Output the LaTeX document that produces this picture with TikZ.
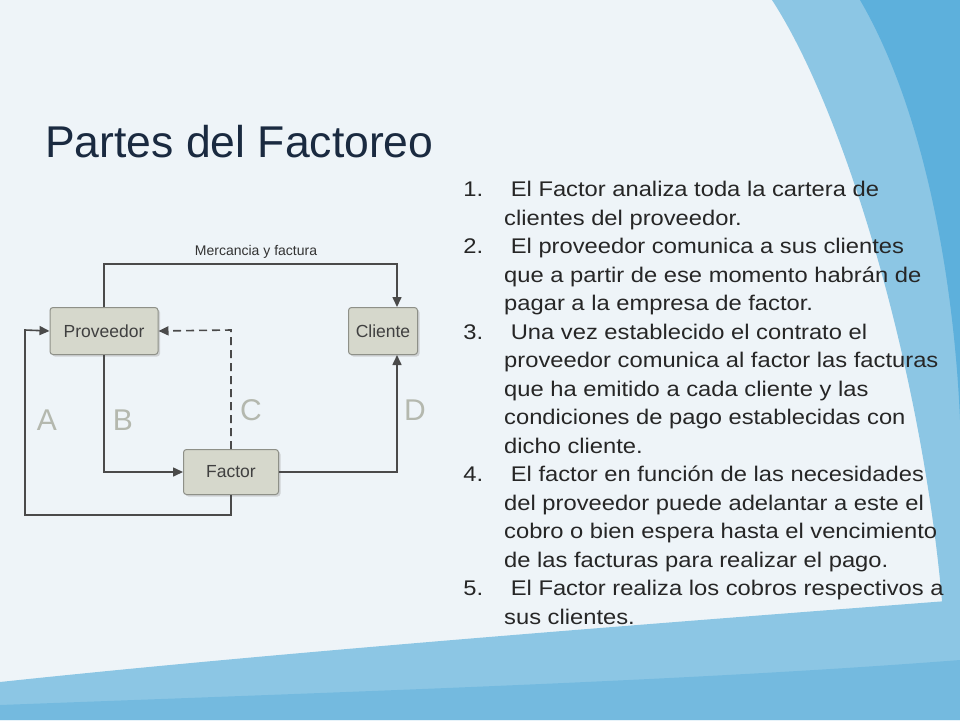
\documentclass[tikz,border=0pt]{standalone}
\usepackage{fontspec}
\setmainfont{Liberation Sans}
\newfontfamily\listfont[FakeStretch=1.12]{Liberation Sans}
\usetikzlibrary{arrows.meta,shadows}
\definecolor{bgpale}{HTML}{EEF4F8}
\definecolor{swoosh}{HTML}{8CC6E4}
\definecolor{swooshd}{HTML}{5DB0DC}
\definecolor{boxfill}{HTML}{D6D8CC}
\definecolor{boxline}{HTML}{8E9088}
\definecolor{lineg}{HTML}{4A4A4A}
\definecolor{letterg}{HTML}{B4B8AE}
\definecolor{titlec}{HTML}{1A2A40}
\tikzset{
  x=1pt,y=-1pt,
  boxn/.style={draw=boxline,fill=boxfill,rounded corners=3pt,line width=1pt,
    drop shadow={shadow xshift=2pt,shadow yshift=-2pt,fill=gray!60},
    font=\fontsize{17.5}{19}\selectfont,text=black!75},
  conn/.style={draw=lineg,line width=1.6pt,-{Triangle[length=10pt,width=9pt]}},
  letter/.style={text=letterg,font=\fontsize{30}{32}\selectfont},
  item/.style={anchor=north west,align=left,inner sep=0pt,text=black!85,
    font=\listfont\fontsize{21.2}{28.5}\selectfont}
}
\newcommand{\numlab}[1]{\llap{#1\hspace{21pt}}}
\begin{document}
\begin{tikzpicture}
\useasboundingbox (0,0) rectangle (960,720);
\fill[bgpale] (0,0) rectangle (960,720);
\fill[swoosh] (772,0) .. controls (850,120) and (930,400) .. (945,640) -- (960,640) -- (960,0) -- cycle;
\fill[swooshd] (860,0) .. controls (930,120) and (955,300) .. (960,420) -- (960,0) -- cycle;
\fill[swoosh] (0,682) .. controls (300,650) and (700,620) .. (960,600) -- (960,720) -- (0,720) -- cycle;
\fill[swooshd,opacity=.5] (0,705) .. controls (400,690) and (700,680) .. (960,660) -- (960,720) -- (0,720) -- cycle;

\node[anchor=base west,inner sep=0pt,text=titlec,font=\fontsize{44.5}{48}\selectfont] (title) at (45,157) {Partes del Factoreo};

% diagram
\node[boxn,minimum width=108pt,minimum height=47pt] (prov) at (104,331) {Proveedor};
\node[boxn,minimum width=69pt,minimum height=47pt] (cli) at (383,331) {Cliente};
\node[boxn,minimum width=95pt,minimum height=45pt] (fac) at (231,472) {Factor};
\coordinate (t1) at (104,264);
\coordinate (t2) at (397,264);
\coordinate (b1) at (104,472);
\coordinate (d1) at (397,472);
\coordinate (c1) at (231,330);
\coordinate (a1) at (231,515);
\coordinate (a2) at (25,515);
\coordinate (a3) at (25,330);
\draw[conn] (prov.north) -- (t1) -- (t2) -- (t2 |- cli.north);
\node[font=\fontsize{14}{16}\selectfont,text=black!80] (merc) at (256,252) {Mercancia y factura};
\draw[conn,dash pattern=on 8pt off 5pt] (fac.north) -- (c1) -- (prov.east);
\draw[conn] (prov.south) -- (b1) -- (fac.west);
\draw[conn] (fac.east) -- (d1) -- (d1 |- cli.south);
\draw[conn] (fac.south) -- (a1) -- (a2) -- (a3) -- (prov.west);
\node[letter] (la) at (47,420) {A};
\node[letter] (lb) at (123,420) {B};
\node[letter] (lc) at (251,410) {C};
\node[letter] (ld) at (415,410) {D};

% list
\node[item] (i1) at (504,181) {\numlab{1.}\ El Factor analiza toda la cartera de\\clientes del proveedor.};
\node[item] (i2) at (504,238) {\numlab{2.}\ El proveedor comunica a sus clientes\\que a partir de ese momento habrán de\\pagar a la empresa de factor.};
\node[item] (i3) at (504,323.5) {\numlab{3.}\ Una vez establecido el contrato el\\proveedor comunica al factor las facturas\\que ha emitido a cada cliente y las\\condiciones de pago establecidas con\\dicho cliente.};
\node[item] (i4) at (504,466) {\numlab{4.}\ El factor en función de las necesidades\\del proveedor puede adelantar a este el\\cobro o bien espera hasta el vencimiento\\de las facturas para realizar el pago.};
\node[item] (i5) at (504,580) {\numlab{5.}\ El Factor realiza los cobros respectivos a\\sus clientes.};
\end{tikzpicture}
\end{document}
